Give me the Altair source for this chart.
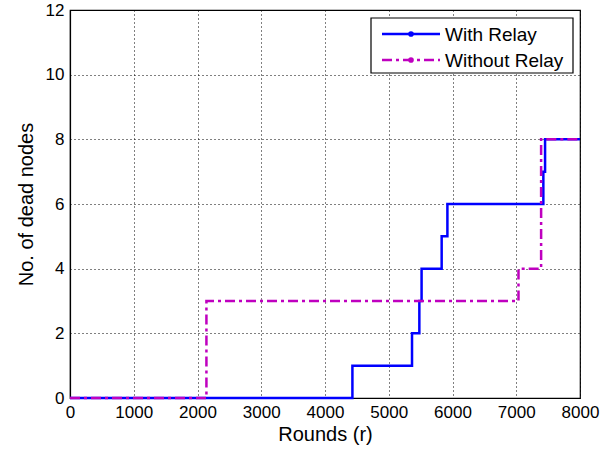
import altair as alt
import pandas as pd

# Rounds at which the dead-node count steps up, and the count reached there
relay_rounds = [0, 4430, 5365, 5480, 5515, 5830, 5920, 7425, 7452, 8000]
relay_dead = [0, 1, 2, 3, 4, 5, 6, 7, 8, 8]

norelay_rounds = [0, 2140, 7035, 7390, 8000]
norelay_dead = [0, 3, 4, 8, 8]

series_names = ["With Relay", "Without Relay"]
series_colors = ["#0000FF", "#BF00BF"]
series_dash = [[1, 0], [10, 4, 3, 4]]

x_ticks = list(range(0, 8001, 1000))
y_ticks = list(range(0, 13, 2))

df = pd.concat([
    pd.DataFrame({"rounds": relay_rounds, "dead": relay_dead, "series": series_names[0]}),
    pd.DataFrame({"rounds": norelay_rounds, "dead": norelay_dead, "series": series_names[1]}),
])

FONT = "Liberation Sans"
W, H = 510, 388
LINE_W = 2.5

lines = alt.Chart(df).mark_line(interpolate="step-after", strokeWidth=LINE_W).encode(
    x=alt.X("rounds:Q",
            scale=alt.Scale(domain=[0, 8000], nice=False, zero=False),
            axis=alt.Axis(title="Rounds (r)", values=x_ticks, format="d")),
    y=alt.Y("dead:Q",
            scale=alt.Scale(domain=[0, 12], nice=False),
            axis=alt.Axis(title="No. of dead nodes", values=y_ticks)),
    color=alt.Color("series:N",
                    scale=alt.Scale(domain=series_names, range=series_colors),
                    legend=None),
    strokeDash=alt.StrokeDash("series:N",
                              scale=alt.Scale(domain=series_names, range=series_dash),
                              legend=None),
)

# Boxed legend in the upper right corner of the axes
one = pd.DataFrame({"k": [0]})
legend_box = alt.Chart(one).mark_rect(
    fill="white", stroke="black", strokeWidth=1.2
).encode(x=alt.value(301), x2=alt.value(503), y=alt.value(8), y2=alt.value(63))

legend_layers = [legend_box]
for i, name in enumerate(series_names):
    row_y = 24 + 26 * i
    base = alt.Chart(pd.DataFrame({"series": [name]}))
    legend_layers.append(base.mark_rule(
        color=series_colors[i], strokeWidth=LINE_W, strokeDash=series_dash[i]
    ).encode(x=alt.value(312), x2=alt.value(370), y=alt.value(row_y)))
    legend_layers.append(base.mark_point(
        filled=True, color=series_colors[i], size=32, opacity=1, shape="circle"
    ).encode(x=alt.value(341), y=alt.value(row_y)))
    legend_layers.append(base.mark_text(
        align="left", baseline="middle", font=FONT, fontSize=19, color="black"
    ).encode(x=alt.value(375), y=alt.value(row_y + 1), text="series:N"))

chart = alt.layer(lines, *legend_layers).properties(
    width=W, height=H,
    autosize=alt.AutoSizeParams(type="none"),
    padding={"left": 70, "top": 10, "right": 31, "bottom": 55},
).configure_view(
    stroke="black", strokeWidth=1.2
).configure_axis(
    grid=True, gridColor="black", gridDash=[1, 3], gridOpacity=1, gridWidth=1,
    domainColor="black", domainWidth=1.2,
    tickSize=0, labelPadding=6, labelFlush=False, labelOverlap=False,
    labelFont=FONT, labelFontSize=17, labelColor="black",
    titleFont=FONT, titleFontSize=20, titleFontWeight="normal", titleColor="black",
).configure_axisX(
    titlePadding=4
).configure_axisY(
    titlePadding=9
)

chart.save("out.html", embed_options={"renderer": "svg", "actions": False})
